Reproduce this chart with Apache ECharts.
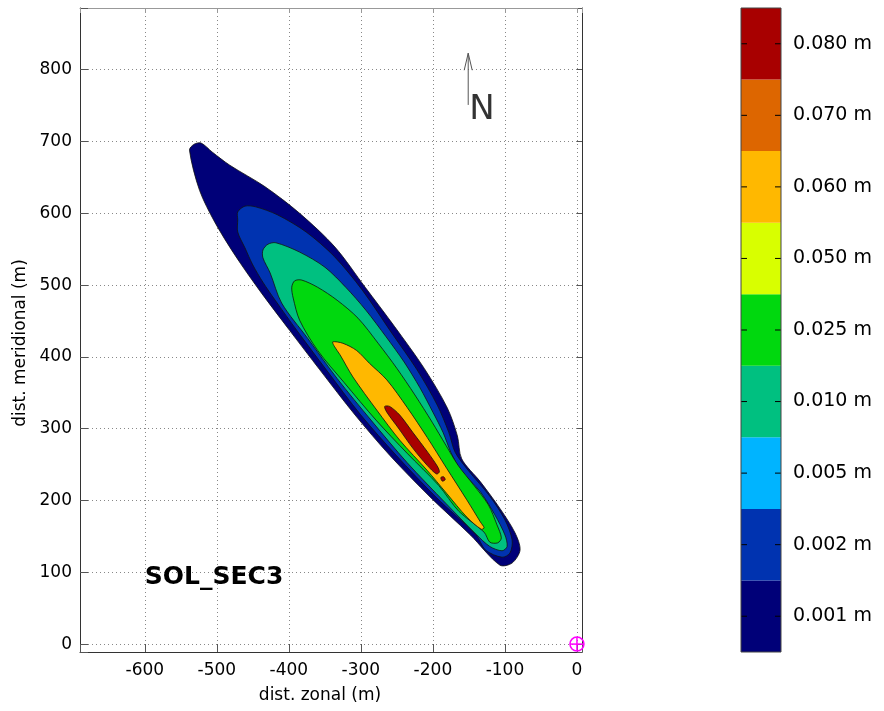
<!DOCTYPE html>
<html>
<head>
<meta charset="utf-8">
<script src="https://cdn.jsdelivr.net/npm/echarts@6/dist/echarts.min.js"></script>
<style>
  html, body { margin: 0; padding: 0; background: #fff; }
  #chart { width: 884px; height: 711px; }
</style>
</head>
<body>
<div id="chart"></div>
<script>
// contour outlines, in metres [zonal, meridional]
const NAVY = [[-538,688],[-532,696],[-522,698],[-506,685],[-482,667],[-433,637],[-385,600],[-336,553],[-294,497],[-253,442],[-212,384],[-180,329],[-166,290],[-160,258],[-134,226],[-107,189],[-86,155],[-79,131],[-90,113],[-107,110],[-148,152],[-204,205],[-260,263],[-308,319],[-357,382],[-399,437],[-441,493],[-475,542],[-503,588],[-524,632]]
const BLUE = [[-471,591],[-471,602],[-461,610],[-446,609],[-416,598],[-376,574],[-337,540],[-298,493],[-257,433],[-222,382],[-194,333],[-178,295],[-169,267],[-151,242],[-121,206],[-100,173],[-90,145],[-93,127],[-104,121],[-127,131],[-140,152],[-196,205],[-251,263],[-300,319],[-348,382],[-389,437],[-419,479],[-436,504],[-450,528],[-461,552],[-471,574]]
const TEAL = [[-436,538],[-436,549],[-429,557],[-418,559],[-385,546],[-350,525],[-321,497],[-293,465],[-265,428],[-240,393],[-218,357],[-200,323],[-186,295],[-175,267],[-161,242],[-134,212],[-114,180],[-100,152],[-97,136],[-104,130],[-121,136],[-140,153],[-182,196],[-236,253],[-286,312],[-333,370],[-374,426],[-410,475],[-426,517]]
const GREEN = [[-394,482],[-396,497],[-392,506],[-382,507],[-360,497],[-333,479],[-304,454],[-276,419],[-250,384],[-225,347],[-201,309],[-182,277],[-165,249],[-143,221],[-123,194],[-111,166],[-105,148],[-110,141],[-121,142],[-129,156],[-164,185],[-192,221],[-236,266],[-279,312],[-323,364],[-360,409],[-385,451]]
const ORANGE = [[-339,421],[-325,419],[-306,409],[-288,391],[-264,368],[-236,330],[-208,288],[-181,245],[-153,201],[-134,170],[-129,162],[-133,160],[-153,177],[-181,210],[-208,242],[-246,284],[-278,326],[-311,372],[-329,403],[-337,415]]
const RED = [[-267,331],[-260,331],[-246,319],[-228,295],[-207,267],[-194,248],[-191,240],[-195,237],[-208,249],[-228,273],[-248,301],[-264,323]]
const RED_DOT = [[-189,232],[-185,233],[-183,229],[-187,227]]
const CONTOURS = [NAVY, BLUE, TEAL, GREEN, ORANGE, RED, RED_DOT]
const FILLS = ['#000078', '#0033b0', '#00c080', '#00d80e', '#ffb800', '#a80000', '#a80000']

// colour bar, bottom to top
const BAR_LABELS = ['0.001 m', '0.002 m', '0.005 m', '0.010 m', '0.025 m', '0.050 m', '0.060 m', '0.070 m', '0.080 m']
const BAR_COLORS = ['#000078', '#0033b0', '#00b4ff', '#00c080', '#00d80e', '#d8ff00', '#ffb800', '#dd6600', '#a80000']

// annotations
const TITLE_POS = [-600, 93]
const NORTH = [[-151, 751], [-151, 823]]
const N_POS = [-132, 743]
const ORIGIN = [[0, 0]]

const FONT = 'DejaVu Sans'
const chart = echarts.init(document.getElementById('chart'))

const tickLabel = v => (v % 100 === 0 ? String(v) : '')

const contourSeries = CONTOURS.map((pts, i) => ({
  type: 'custom', xAxisIndex: 0, yAxisIndex: 0, silent: true, clip: true, z: 2 + i,
  data: [pts[0]],
  renderItem: (params, api) => ({
    type: 'polygon',
    shape: { points: pts.map(p => api.coord(p)), smooth: 0.3 },
    style: { fill: FILLS[i], stroke: '#111', lineWidth: 0.8 },
  }),
}))

chart.setOption({
  animation: false,
  backgroundColor: '#fff',
  textStyle: { fontFamily: FONT },
  grid: [
    { left: 80, top: 8, width: 502, height: 644, containLabel: false, outerBoundsMode: 'none' },
    { left: 741, top: 8, width: 40, height: 644, containLabel: false, outerBoundsMode: 'none',
      show: true, borderColor: '#444', borderWidth: 1, backgroundColor: 'transparent', z: 10 },
  ],
  xAxis: [
    {
      gridIndex: 0, type: 'value', min: -690, max: 7, splitNumber: 7, position: 'bottom',
      name: 'dist. zonal (m)', nameLocation: 'middle', nameGap: 35,
      nameTextStyle: { fontSize: 17, color: '#000', fontFamily: FONT, padding: [0, 22, 0, 0] },
      axisLine: { onZero: false, lineStyle: { color: '#333' } },
      axisTick: { inside: true, length: 8, lineStyle: { color: '#555' } },
      axisLabel: { fontSize: 17, color: '#000', margin: 10, formatter: tickLabel },
      splitLine: { show: true, lineStyle: { color: '#888', type: [1, 3] } },
    },
    {
      gridIndex: 0, type: 'value', min: -690, max: 7, splitNumber: 7, position: 'top',
      axisLine: { onZero: false, lineStyle: { color: '#999' } },
      axisTick: { inside: true, length: 5, lineStyle: { color: '#999' } },
      axisLabel: { show: false }, splitLine: { show: false },
    },
    { gridIndex: 1, type: 'value', min: 0, max: 1, show: false },
  ],
  yAxis: [
    {
      gridIndex: 0, type: 'value', min: -11, max: 886, splitNumber: 9, position: 'left',
      name: 'dist. meridional (m)', nameLocation: 'middle', nameGap: 49, nameRotate: 90,
      nameTextStyle: { fontSize: 17, color: '#000', fontFamily: FONT, padding: [0, 26, 0, 0] },
      axisLine: { show: true, onZero: false, lineStyle: { color: '#333' } },
      axisTick: { show: true, inside: true, length: 8, lineStyle: { color: '#555' } },
      axisLabel: { fontSize: 17, color: '#000', margin: 8, formatter: tickLabel },
      splitLine: { show: true, lineStyle: { color: '#888', type: [1, 3] } },
    },
    {
      gridIndex: 0, type: 'value', min: -11, max: 886, splitNumber: 9, position: 'right',
      axisLine: { show: true, onZero: false, lineStyle: { color: '#333' } },
      axisTick: { show: true, inside: true, length: 5, lineStyle: { color: '#555' } },
      axisLabel: { show: false }, splitLine: { show: false },
    },
    {
      gridIndex: 1, type: 'category', data: BAR_LABELS, position: 'right',
      axisLine: { show: false }, axisTick: { show: false },
      axisLabel: { fontSize: 19, color: '#000', margin: 12 },
    },
  ],
  series: [
    ...contourSeries,
    {
      // colour bar bands with small ticks on both sides at each band centre
      type: 'custom', xAxisIndex: 2, yAxisIndex: 2, silent: true, z: 2,
      data: BAR_COLORS.map((c, i) => [0, i]),
      renderItem: (params, api) => {
        const i = params.dataIndex
        const lo = api.coord([0, i]), hi = api.coord([1, i])
        const h = api.size([1, 1])[1]
        const tick = { stroke: '#000', lineWidth: 1 }
        return { type: 'group', children: [
          { type: 'rect', shape: { x: lo[0], y: lo[1] - h / 2, width: hi[0] - lo[0], height: h }, style: { fill: BAR_COLORS[i] } },
          { type: 'line', shape: { x1: lo[0], y1: lo[1], x2: lo[0] + 6, y2: lo[1] }, style: tick },
          { type: 'line', shape: { x1: hi[0] - 6, y1: lo[1], x2: hi[0], y2: lo[1] }, style: tick },
        ] }
      },
    },
    {
      type: 'scatter', xAxisIndex: 0, yAxisIndex: 0, symbolSize: 0, silent: true, z: 20,
      data: [TITLE_POS],
      label: { show: true, position: 'right', distance: 0, formatter: 'SOL_SEC3',
        fontSize: 25, fontWeight: 'bold', color: '#000', opacity: 1, fontFamily: FONT },
    },
    {
      type: 'scatter', xAxisIndex: 0, yAxisIndex: 0, symbolSize: 0, silent: true, z: 20,
      data: [N_POS],
      label: { show: true, position: 'inside', formatter: 'N', fontSize: 34, color: '#000', fontFamily: FONT },
    },
    {
      // north arrow: shaft plus open arrow head
      type: 'custom', xAxisIndex: 0, yAxisIndex: 0, silent: true, z: 20,
      data: [NORTH[0]],
      renderItem: (params, api) => {
        const a = api.coord(NORTH[0]), b = api.coord(NORTH[1])
        const st = { stroke: '#555', lineWidth: 1, fill: null }
        return { type: 'group', children: [
          { type: 'line', shape: { x1: a[0], y1: a[1], x2: b[0], y2: b[1] }, style: st },
          { type: 'polyline', shape: { points: [[b[0] - 4, b[1] + 17], [b[0], b[1]], [b[0] + 4, b[1] + 17]] }, style: st },
        ] }
      },
    },
    {
      // origin marker
      type: 'custom', xAxisIndex: 0, yAxisIndex: 0, silent: true, clip: false, z: 20,
      data: ORIGIN,
      renderItem: (params, api) => {
        const c = api.coord([api.value(0), api.value(1)])
        const r = 7, st = { stroke: '#ff00ff', lineWidth: 1.5, fill: null }
        return { type: 'group', children: [
          { type: 'circle', shape: { cx: c[0], cy: c[1], r }, style: st },
          { type: 'line', shape: { x1: c[0] - r, y1: c[1], x2: c[0] + r, y2: c[1] }, style: st },
          { type: 'line', shape: { x1: c[0], y1: c[1] - r, x2: c[0], y2: c[1] + r }, style: st },
        ] }
      },
    },
  ],
})
</script>
</body>
</html>
